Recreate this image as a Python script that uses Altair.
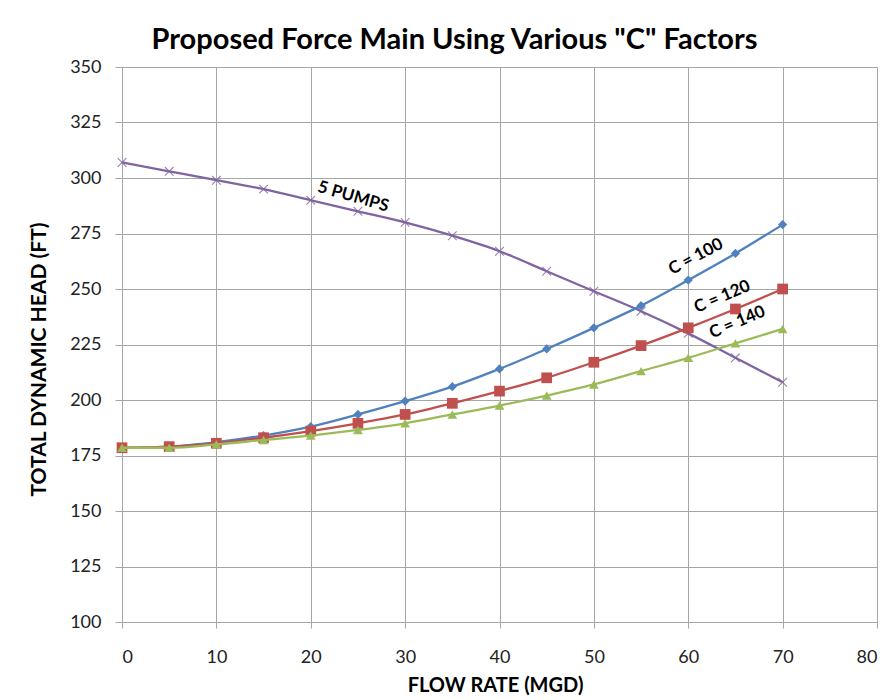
import altair as alt
import pandas as pd

flow = [0, 5, 10, 15, 20, 25, 30, 35, 40, 45, 50, 55, 60, 65, 70]
pumps5 = [307, 303, 299, 295, 290, 285, 280, 274, 267, 258, 249, 240, 230, 219, 208]
c100 = [178.5, 179, 181, 184, 188, 193.5, 199.5, 206, 214, 223, 232.5, 242.5, 254, 266, 279]
c120 = [178.5, 179, 180.5, 183, 186, 189.5, 193.5, 198.5, 204, 210, 217, 224.5, 232.5, 241, 250]
c140 = [178.5, 178.5, 180, 182, 184, 186.5, 189.5, 193.5, 197.5, 202, 207, 213, 219, 225.5, 232]

label_text = ["5  PUMPS", "C = 100", "C = 120", "C = 140"]
label_x = [24.5, 60.8, 63.6, 65.2]
label_y = [291.5, 264.5, 246.5, 235]
label_angle = [16, 332, 337, 337]

x_ticks = [0, 10, 20, 30, 40, 50, 60, 70, 80]
y_ticks = [100, 125, 150, 175, 200, 225, 250, 275, 300, 325, 350]

FONT = "Lato"

xs = alt.Scale(domain=[0, 80], nice=False)
ys = alt.Scale(domain=[100, 350], nice=False)

xaxis = alt.Axis(values=x_ticks, title="FLOW RATE (MGD)", grid=True,
                 tickSize=6, labelPadding=20, titleX=373, titleY=63,
                 titleBaseline="middle")
yaxis = alt.Axis(values=y_ticks, title="TOTAL DYNAMIC HEAD (FT)", grid=True,
                 tickSize=7, labelPadding=14, titleX=-83, titleY=292,
                 titleBaseline="middle", titleAngle=270, titleFontSize=21)


def series_df(vals):
    return pd.DataFrame({"flow": flow, "head": vals})


def line_layer(vals, color):
    base = alt.Chart(series_df(vals))
    line = base.mark_line(color=color, strokeWidth=2.3, interpolate="monotone").encode(
        x=alt.X("flow:Q", scale=xs, axis=xaxis),
        y=alt.Y("head:Q", scale=ys, axis=yaxis),
    )
    return base, line


purple = "#8064A2"
blue = "#4F81BD"
red = "#C0504D"
green = "#9BBB59"

b, l_p = line_layer(pumps5, purple)
p_p = b.mark_point(shape="M-1,-1L1,1M-1,1L1,-1", filled=False, color=purple,
                   size=75, strokeWidth=1.1, opacity=0.8).encode(x="flow:Q", y="head:Q")

b, l_b = line_layer(c100, blue)
p_b = b.mark_point(shape="diamond", filled=True, color=blue, size=85,
                   opacity=1).encode(x="flow:Q", y="head:Q")

b, l_r = line_layer(c120, red)
p_r = b.mark_point(shape="square", filled=True, color=red, size=115,
                   opacity=1).encode(x="flow:Q", y="head:Q")

b, l_g = line_layer(c140, green)
p_g = b.mark_point(shape="triangle-up", filled=True, color=green, size=95,
                   opacity=1).encode(x="flow:Q", y="head:Q")

labels_df = pd.DataFrame({"t": label_text, "x": label_x, "y": label_y, "a": label_angle})
labels = alt.Chart(labels_df).mark_text(font=FONT, fontSize=17, fontWeight="bold",
                                        color="black").encode(
    x="x:Q", y="y:Q", text="t:N", angle=alt.Angle("a:Q", scale=None)
)

chart = alt.layer(l_p, p_p, l_b, p_b, l_r, p_r, l_g, p_g, labels).properties(
    width=755, height=555,
    background="white",
    title=alt.TitleParams('Proposed Force Main Using Various "C" Factors',
                          font=FONT, fontSize=29, fontWeight="bold", color="black",
                          anchor="middle", dx=-45, offset=3),
    autosize=alt.AutoSizeParams(type="none"),
    padding={"left": 122, "top": 67, "right": 15, "bottom": 78},
).configure_view(stroke=None).configure_axis(
    gridColor="#A6A6A6", gridWidth=1, domainColor="#A6A6A6", tickColor="#A6A6A6",
    labelFont=FONT, labelFontSize=18, labelColor="#222222",
    titleFont=FONT, titleFontSize=20, titleFontWeight="bold", titleColor="black",
)

chart.save("out.html", embed_options={"renderer": "svg", "actions": False})
